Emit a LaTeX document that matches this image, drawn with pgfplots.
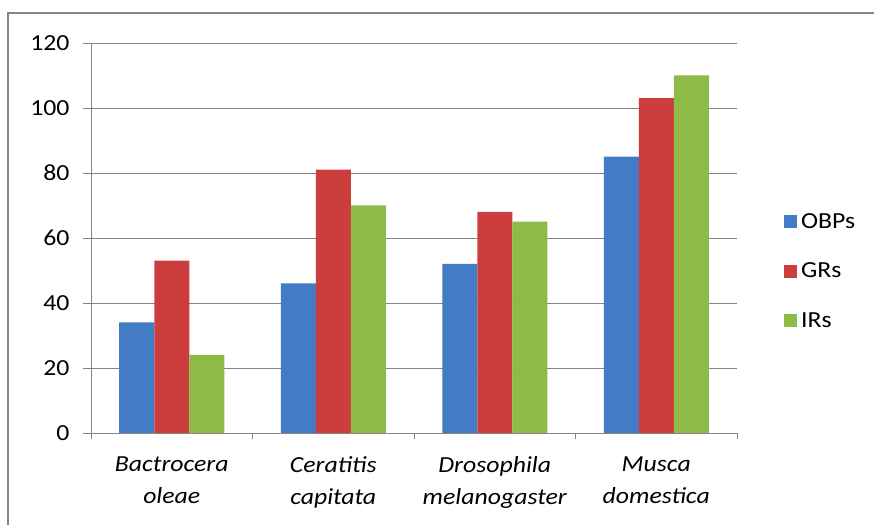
\documentclass[border=0pt]{standalone}
\usepackage{fontspec}
\setmainfont{Carlito}[FakeStretch=1.12]
\usepackage{pgfplots}
\pgfplotsset{compat=1.18}
\definecolor{cOBP}{RGB}{66,124,196}
\definecolor{cGR}{RGB}{204,62,62}
\definecolor{cIR}{RGB}{142,186,72}
\definecolor{cgrid}{RGB}{134,134,134}
\begin{document}
\begin{tikzpicture}
\path[use as bounding box] (0bp,0bp) rectangle (874bp,525bp);
\fill[white] (0bp,0bp) rectangle (874bp,525bp);
\draw[cgrid, line width=1.8bp] (8bp,0bp) -- (8bp,512bp) -- (876bp,512bp);
\begin{axis}[
  at={(91bp,92bp)}, anchor=south west,
  scale only axis, width=646bp, height=390bp,
  xmin=-0.5, xmax=3.5, ymin=0, ymax=120,
  axis lines*=left,
  axis line style={cgrid, line width=0.9bp},
  ytick={0,20,...,120},
  /pgf/number format/assume math mode=true,
  ymajorgrids, grid style={cgrid, line width=0.9bp},
  tick align=outside,
  major tick length=8bp, minor tick length=6bp,
  ytick style={cgrid, line width=0.9bp},
  xtick={0,1,2,3},
  xticklabels={{\itshape Bactrocera\\\itshape oleae},{\itshape Ceratitis\\\itshape capitata},{\itshape Drosophila\\\itshape melanogaster},{\itshape Musca\\\itshape domestica}},
  major x tick style={draw=none},
  minor xtick={-0.5,0.5,1.5,2.5,3.5},
  minor x tick style={cgrid, line width=0.9bp},
  xticklabel style={align=center, font=\fontsize{23bp}{32bp}\selectfont, yshift=-12bp},
  yticklabel style={font=\fontsize{23bp}{28bp}\selectfont, xshift=-10bp},
  ybar=0pt, bar width=35bp,
  legend style={draw=none, fill=none, at={(1.068,0.415)}, anchor=west,
    font=\fontsize{23bp}{28bp}\selectfont, row sep=29bp,
    /tikz/every odd column/.append style={column sep=2bp}},
  legend cell align=left,
  legend image code/.code={\draw[#1,draw=none] (0bp,-6.5bp) rectangle (13bp,6.5bp);},
]
\addplot[fill=cOBP, draw=none] coordinates {(0,34) (1,46) (2,52) (3,85)};
\addplot[fill=cGR, draw=none] coordinates {(0,53) (1,81) (2,68) (3,103)};
\addplot[fill=cIR, draw=none] coordinates {(0,24) (1,70) (2,65) (3,110)};
\legend{OBPs,GRs,IRs}
\end{axis}
\end{tikzpicture}
\end{document}
